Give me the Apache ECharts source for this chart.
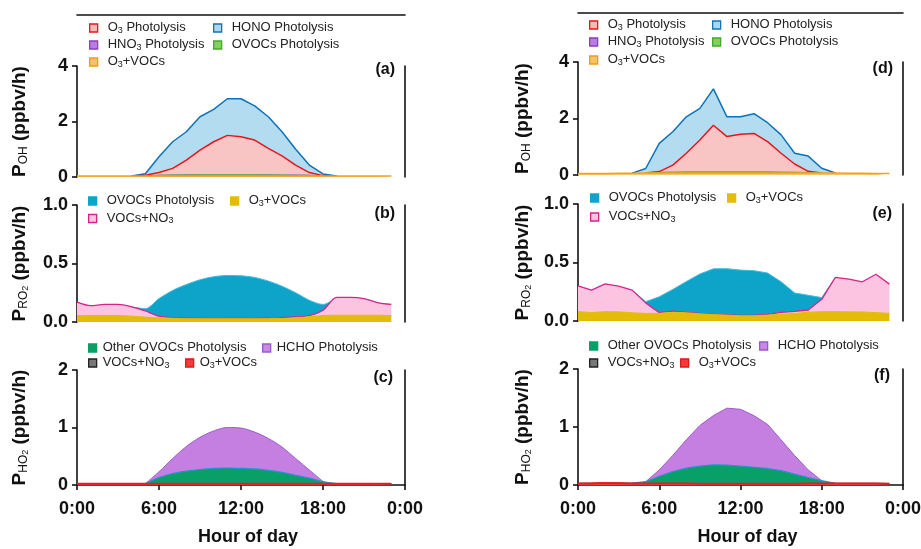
<!DOCTYPE html>
<html>
<head>
<meta charset="utf-8">
<script src="https://cdn.jsdelivr.net/npm/echarts@6/dist/echarts.min.js"></script>
<style>
html, body { margin: 0; padding: 0; background: #fff; }
#chart { width: 921px; height: 549px; }
</style>
</head>
<body>
<div id="chart"></div>
<script>
// hour of day (x); the last slot (24) only closes the axis
var hours = [0,1,2,3,4,5,6,7,8,9,10,11,12,13,14,15,16,17,18,19,20,21,22,23,24];
var xTicks = ['0:00', '6:00', '12:00', '18:00', '0:00'];

// (a) P_OH, case 1 (stacked contributions, ppbv/h)
var aO3Voc = [0.04,0.04,0.04,0.04,0.04,0.04,0.04,0.04,0.04,0.04,0.04,0.04,0.04,0.04,0.04,0.04,0.04,0.04,0.04,0.04,0.04,0.04,0.04,0.04];
var aOvoc  = [null,null,null,null,null,0,0.01,0.02,0.025,0.03,0.03,0.03,0.03,0.03,0.025,0.02,0.015,0.01,0,null,null,null,null,null];
var aHno3  = [null,null,null,null,null,0,0.005,0.005,0.005,0.005,0.005,0.005,0.005,0.005,0.005,0.005,0.005,0.005,0,null,null,null,null,null];
var aO3p   = [null,null,null,null,0,0.02,0.105,0.245,0.54,0.895,1.195,1.425,1.375,1.255,0.96,0.695,0.37,0.105,0.01,0,null,null,null,null];
var aHono  = [null,null,null,null,0,0.06,0.57,0.96,1.02,1.2,1.17,1.32,1.37,1.23,1.14,0.87,0.57,0.27,0.06,0,null,null,null,null];

// (b) P_RO2, case 1
var bO3Voc  = [0.055,0.055,0.055,0.055,0.05,0.042,0.035,0.032,0.028,0.028,0.028,0.028,0.028,0.028,0.028,0.03,0.035,0.045,0.055,0.058,0.058,0.058,0.058,0.055];
var bVocNo3 = [0.115,0.085,0.095,0.095,0.08,0.052,0.015,0.005,0.005,0.003,0.003,0.003,0.003,0.003,0.006,0.008,0.008,0.009,0.045,0.152,0.152,0.142,0.108,0.095];
var bOvoc   = [null,null,null,null,0,0.02,0.15,0.233,0.287,0.33,0.356,0.367,0.364,0.35,0.316,0.268,0.207,0.132,0.05,0,null,null,null,null];

// (c) P_HO2, case 1
var cO3Voc  = [0.02,0.02,0.02,0.02,0.02,0.02,0.02,0.02,0.02,0.02,0.02,0.02,0.02,0.02,0.02,0.02,0.02,0.02,0.02,0.02,0.02,0.02,0.02,0.02];
var cVocNo3 = [0.005,0.005,0.005,0.005,0.005,0.002,0.002,0.002,0.002,0.002,0.002,0.002,0.002,0.002,0.002,0.002,0.002,0.002,0.002,0.005,0.005,0.005,0.005,0.005];
var cOther  = [null,null,null,null,null,0,0.108,0.178,0.218,0.248,0.268,0.274,0.268,0.258,0.233,0.198,0.148,0.098,0.038,0,null,null,null,null];
var cHcho   = [null,null,null,null,null,0,0.1,0.26,0.43,0.56,0.65,0.704,0.7,0.64,0.555,0.44,0.29,0.14,0,null,null,null,null,null];

// (d) P_OH, case 2
var dO3Voc = [0.05,0.05,0.055,0.06,0.065,0.07,0.07,0.07,0.07,0.07,0.07,0.07,0.07,0.07,0.07,0.07,0.07,0.07,0.07,0.07,0.065,0.06,0.055,0.05];
var dOvoc  = [null,null,null,null,null,0,0.01,0.015,0.02,0.02,0.02,0.02,0.02,0.02,0.02,0.015,0.01,0.005,0,null,null,null,null,null];
var dHno3  = [null,null,null,null,null,0,0.005,0.005,0.005,0.005,0.005,0.005,0.005,0.005,0.005,0.005,0.005,0.005,0,null,null,null,null,null];
var dO3p   = [null,null,null,null,null,0,0.035,0.26,0.675,1.145,1.665,1.265,1.345,1.375,1.085,0.68,0.305,0.05,0,null,null,null,null,null];
var dHono  = [null,null,null,null,0,0.16,1.0,1.18,1.29,1.12,1.29,0.7,0.62,0.7,0.67,0.65,0.38,0.54,0.17,0,null,null,null,null];

// (e) P_RO2, case 2
var eO3Voc  = [0.08,0.072,0.08,0.078,0.07,0.065,0.065,0.075,0.07,0.062,0.055,0.05,0.045,0.045,0.05,0.058,0.065,0.075,0.08,0.08,0.078,0.077,0.072,0.065];
var eVocNo3 = [0.22,0.192,0.238,0.22,0.194,0.09,0.006,0.01,0.003,0.002,0.002,0.002,0.002,0.002,0.007,0.016,0.017,0.019,0.105,0.292,0.28,0.258,0.328,0.25];
var eOvoc   = [null,null,null,null,0,0.01,0.136,0.185,0.264,0.338,0.389,0.395,0.388,0.383,0.353,0.261,0.158,0.126,0.015,0,null,null,null,null];

// (f) P_HO2, case 2
var fO3Voc  = [0.025,0.028,0.035,0.032,0.027,0.025,0.025,0.025,0.025,0.022,0.022,0.02,0.02,0.02,0.02,0.022,0.022,0.025,0.025,0.025,0.025,0.025,0.025,0.022];
var fVocNo3 = [0.005,0.005,0.005,0.005,0.005,0.002,0.002,0.002,0.002,0.002,0.002,0.002,0.002,0.002,0.002,0.002,0.002,0.002,0.002,0.005,0.005,0.005,0.005,0.005];
var fOther  = [null,null,null,null,0,0.03,0.123,0.203,0.263,0.303,0.323,0.323,0.303,0.283,0.263,0.223,0.163,0.103,0.047,0,null,null,null,null];
var fHcho   = [null,null,null,null,null,0,0.11,0.28,0.49,0.7,0.85,0.98,0.98,0.89,0.76,0.53,0.32,0.13,0,null,null,null,null,null];

var FONT = '"Liberation Sans", Arial, Helvetica, sans-serif';
var INK = '#111';

// legend texts (rich, with subscripts)
var labels = {
  o3p: '{n|O}{s|3}{n| Photolysis}',
  hono: '{n|HONO Photolysis}',
  hno3: '{n|HNO}{s|3}{n| Photolysis}',
  ovoc: '{n|OVOCs Photolysis}',
  o3voc: '{n|O}{s|3}{n|+VOCs}',
  vocno3: '{n|VOCs+NO}{s|3}',
  other: '{n|Other OVOCs Photolysis}',
  hcho: '{n|HCHO Photolysis}'
};

function area(name, g, vals, line, fill, z, smooth, lw) {
  return {
    name: name, type: 'line', xAxisIndex: g, yAxisIndex: g, stack: 'g' + g,
    data: vals,
    symbol: 'none', smooth: smooth || false, z: z, silent: true,
    lineStyle: { color: line, width: lw || 1.5 },
    areaStyle: { color: fill, opacity: 1 },
    itemStyle: { color: fill },
    emphasis: { disabled: true }
  };
}

var series = [
  // (a) bottom -> top
  area('a_o3voc', 0, aO3Voc, '#f2a21e', '#f8c36a', 20),
  area('a_ovoc', 0, aOvoc, '#5cb83c', '#85d064', 19),
  area('a_hno3', 0, aHno3, '#9b4fc8', '#b87ddd', 18),
  area('a_o3p', 0, aO3p, '#e8151b', '#f9c4c4', 17),
  area('a_hono', 0, aHono, '#0e73b6', '#b3dcf1', 16),
  // (b)
  area('b_o3voc', 1, bO3Voc, '#e2bc08', '#e2bc08', 20, 0.3, 1),
  area('b_vocno3', 1, bVocNo3, '#d3248d', '#fcc4e0', 19, 0.3, 1.3),
  area('b_ovoc', 1, bOvoc, '#45bade', '#0ea4ca', 18, 0.3, 1),
  // (c)
  area('c_o3voc', 2, cO3Voc, '#e81d1d', '#ee4444', 20, 0.3, 2),
  area('c_vocno3', 2, cVocNo3, '#444444', '#777777', 19, 0.3, 1),
  area('c_other', 2, cOther, '#2590d0', '#09a068', 18, 0.3, 1.2),
  area('c_hcho', 2, cHcho, '#9d5cc8', '#c47fe0', 17, 0.3, 1),
  // (d)
  area('d_o3voc', 3, dO3Voc, '#f2a21e', '#f8c36a', 20),
  area('d_ovoc', 3, dOvoc, '#5cb83c', '#85d064', 19),
  area('d_hno3', 3, dHno3, '#9b4fc8', '#b87ddd', 18),
  area('d_o3p', 3, dO3p, '#e8151b', '#f9c4c4', 17),
  area('d_hono', 3, dHono, '#0e73b6', '#b3dcf1', 16),
  // (e)
  area('e_o3voc', 4, eO3Voc, '#e2bc08', '#e2bc08', 20, false, 1),
  area('e_vocno3', 4, eVocNo3, '#d3248d', '#fcc4e0', 19, false, 1.3),
  area('e_ovoc', 4, eOvoc, '#45bade', '#0ea4ca', 18, false, 1),
  // (f)
  area('f_o3voc', 5, fO3Voc, '#e81d1d', '#ee4444', 20, false, 2),
  area('f_vocno3', 5, fVocNo3, '#444444', '#777777', 19, false, 1),
  area('f_other', 5, fOther, '#2590d0', '#09a068', 18, false, 1.2),
  area('f_hcho', 5, fHcho, '#9d5cc8', '#c47fe0', 17, false, 1)
];

// legend icon look: [fill, border]
var iconStyle = {
  a_o3p: ['#f7b8b8', '#e8151b'], a_hono: ['#a8d8f0', '#1273b5'], a_hno3: ['#b77de0', '#8c3fbf'],
  a_ovoc: ['#7fd25e', '#45a82a'], a_o3voc: ['#f8c26a', '#ef9a15'],
  b_ovoc: ['#0ea5cb', '#0ea5cb'], b_o3voc: ['#e3bc0c', '#e3bc0c'], b_vocno3: ['#fbc5e0', '#d3248d'],
  c_other: ['#0b9f68', '#0b9f68'], c_hcho: ['#c888e6', '#9c58c8'], c_vocno3: ['#777777', '#222222'], c_o3voc: ['#f23a3a', '#e01818']
};
['o3p', 'hono', 'hno3', 'ovoc', 'o3voc'].forEach(function (k) { iconStyle['d_' + k] = iconStyle['a_' + k]; });
['ovoc', 'o3voc', 'vocno3'].forEach(function (k) { iconStyle['e_' + k] = iconStyle['b_' + k]; });
['other', 'hcho', 'vocno3', 'o3voc'].forEach(function (k) { iconStyle['f_' + k] = iconStyle['c_' + k]; });

// legend spots: [series name, icon left x, row centre y]
var legendSpots = [
  ['a_o3p', 89, 28], ['a_hno3', 89, 45], ['a_o3voc', 89, 62], ['a_hono', 213, 28], ['a_ovoc', 213, 45],
  ['b_ovoc', 88, 201], ['b_vocno3', 88, 218.5], ['b_o3voc', 230, 201],
  ['c_other', 88, 348], ['c_vocno3', 88, 363], ['c_hcho', 262, 348], ['c_o3voc', 185, 363],
  ['d_o3p', 589, 25], ['d_hno3', 589, 42], ['d_o3voc', 589, 60], ['d_hono', 712, 25], ['d_ovoc', 712, 42],
  ['e_ovoc', 590, 198], ['e_vocno3', 590, 217], ['e_o3voc', 727, 198],
  ['f_other', 589, 346], ['f_vocno3', 589, 363], ['f_hcho', 759, 346], ['f_o3voc', 680, 363]
];

var legends = legendSpots.map(function (s) {
  var st = iconStyle[s[0]];
  var pad = s[0].charAt(0) === 'c' ? 1 : 5;
  return {
    left: s[1], top: s[2] - 7, padding: 0, selectedMode: false, z: 30,
    icon: 'rect', itemWidth: 8, itemHeight: 8,
    data: [{ name: s[0], itemStyle: { color: st[0], borderColor: st[1], borderWidth: 1.3 } }],
    formatter: function (name) { return labels[name.slice(2)]; },
    textStyle: {
      padding: [0, 0, 0, pad],
      rich: {
        n: { fontSize: 13, color: '#222', fontFamily: FONT, lineHeight: 14, verticalAlign: 'top' },
        s: { fontSize: 9, color: '#222', fontFamily: FONT, lineHeight: 6, verticalAlign: 'bottom' }
      }
    }
  };
});

var grids = [
  { left: 77, top: 66, width: 328, height: 111 },
  { left: 77, top: 205, width: 328, height: 117 },
  { left: 77, top: 370, width: 328, height: 115 },
  { left: 578, top: 62, width: 325, height: 113 },
  { left: 578, top: 204, width: 325, height: 117 },
  { left: 578, top: 369, width: 325, height: 116 }
].map(function (g) { g.outerBoundsMode = 'none'; return g; });

var axisLine = { show: true, onZero: false, lineStyle: { color: INK, width: 1.6 } };
var tickFont = { fontSize: 18, fontWeight: 'bold', color: INK, fontFamily: FONT };

function xAx(g, shown) {
  return {
    gridIndex: g, type: 'category', data: hours, boundaryGap: false,
    axisLine: shown ? axisLine : { show: false },
    axisTick: { show: shown, interval: 5, length: 5, lineStyle: { color: INK, width: 1.6 } },
    axisLabel: Object.assign({ show: shown, interval: 5, margin: 15,
      formatter: function (v, i) { return xTicks[i / 6]; } }, tickFont),
    splitLine: { show: false },
    name: shown ? 'Hour of day' : '', nameLocation: 'middle', nameGap: 43,
    nameTextStyle: { fontSize: 18, fontWeight: 'bold', color: INK, fontFamily: FONT, padding: [0, 0, 0, 14] }
  };
}
// decorative frame line above the legend of (a)/(d)
function xTop(g, off) {
  return {
    gridIndex: g, type: 'value', min: 0, max: 24, position: 'top', offset: off,
    axisLine: { show: true, onZero: false, lineStyle: { color: INK, width: 1.6 } },
    axisTick: { show: false }, axisLabel: { show: false }, splitLine: { show: false }
  };
}

var titleRich = {
  n: { fontSize: 19, fontWeight: 'bold', color: INK, fontFamily: FONT, lineHeight: 20, verticalAlign: 'top' },
  s: { fontSize: 12, color: INK, fontFamily: FONT, lineHeight: 6, verticalAlign: 'bottom' },
  ss: { fontSize: 9, color: INK, fontFamily: FONT, lineHeight: 1, verticalAlign: 'bottom' }
};

function yAx(g, max, interval, name, gap, fmt) {
  return {
    gridIndex: g, type: 'value', min: 0, max: max, interval: interval, position: 'left',
    axisLine: axisLine,
    axisTick: { show: true, length: 5, lineStyle: { color: INK, width: 1.6 } },
    axisLabel: Object.assign({ margin: 9, formatter: fmt }, tickFont),
    splitLine: { show: false },
    name: name, nameLocation: 'middle', nameGap: gap,
    nameTextStyle: { rich: titleRich }
  };
}
function yRight(g) {
  return {
    gridIndex: g, type: 'value', min: 0, max: 1, position: 'right',
    axisLine: axisLine, axisTick: { show: false }, axisLabel: { show: false }, splitLine: { show: false }
  };
}

var nameOH = '{n|P}{s|OH}{n| (ppbv/h)}';
var nameRO2 = '{n|P}{s|RO}{ss|2}{n| (ppbv/h)}';
var nameHO2 = '{n|P}{s|HO}{ss|2}{n| (ppbv/h)}';
var f0 = function (v) { return String(v); };
var f1 = function (v) { return v.toFixed(1); };

var panelTags = [
  ['(a)', 526, 62], ['(b)', 526, 206], ['(c)', 528, 370],
  ['(d)', 28, 61], ['(e)', 29, 206], ['(f)', 31, 368]
];

var option = {
  backgroundColor: '#fff',
  animation: false,
  title: panelTags.map(function (t) {
    return { text: t[0], right: t[1], top: t[2], padding: 0, z: 30,
      textStyle: { fontSize: 16, fontWeight: 'bold', color: INK, fontFamily: FONT } };
  }),
  legend: legends,
  grid: grids,
  xAxis: [xAx(0, false), xAx(1, false), xAx(2, true), xAx(3, false), xAx(4, false), xAx(5, true),
          xTop(0, 51), xTop(3, 49)],
  yAxis: [
    yAx(0, 4, 2, nameOH, 47, f0), yAx(1, 1, 0.5, nameRO2, 47, f1), yAx(2, 2, 1, nameHO2, 47, f0),
    yAx(3, 4, 2, nameOH, 45, f0), yAx(4, 1, 0.5, nameRO2, 45, f1), yAx(5, 2, 1, nameHO2, 45, f0),
    yRight(0), yRight(1), yRight(2), yRight(3), yRight(4), yRight(5)
  ],
  series: series
};

var chart = echarts.init(document.getElementById('chart'), null, { renderer: 'canvas' });
chart.setOption(option);
</script>
</body>
</html>
